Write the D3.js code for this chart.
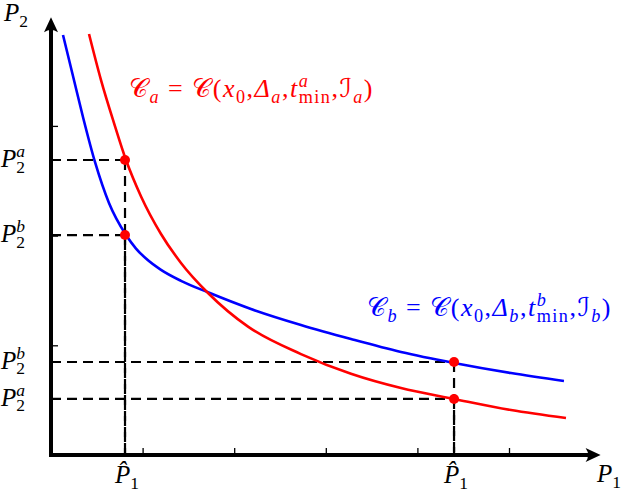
<!DOCTYPE html>
<html>
<head>
<meta charset="utf-8">
<title>Curves Ca and Cb</title>
<style>
  body { margin: 0; background: #fff; }
  svg { display: block; }
  .tick line { stroke: #000; stroke-width: 1.3; }
  .tick text { display: none; }
  .math { font-family: "Liberation Serif", "DejaVu Serif", serif; }
</style>
</head>
<body>
<svg width="629" height="491"></svg>
<script src="https://d3js.org/d3.v7.min.js"></script>
<script>
// curve C_a (red)
var redX = [0.415, 0.546, 0.688, 0.819, 0.983, 1.201, 1.419, 1.714, 2.151, 2.729, 3.275, 3.821, 4.400, 5.022, 5.622];
var redY = [3.838, 3.418, 3.026, 2.689, 2.357, 2.015, 1.751, 1.477, 1.170, 0.920, 0.740, 0.610, 0.511, 0.410, 0.337];

// curve C_b (blue)
var blueX = [0.131, 0.240, 0.349, 0.480, 0.633, 0.819, 0.928, 1.037, 1.201, 1.419, 1.714, 2.183, 2.729, 3.275, 3.821, 4.400, 5.022, 5.600];
var blueY = [3.829, 3.455, 3.081, 2.671, 2.297, 2.005, 1.882, 1.791, 1.688, 1.588, 1.483, 1.331, 1.185, 1.057, 0.939, 0.839, 0.747, 0.675];

// marked points (P1 hat, P2 level)
var markX = [0.808, 0.808, 4.400, 4.400];
var markY = [2.689, 2.005, 0.848, 0.511];
var markSup = ["a", "b", "b", "a"];

// minor ticks
var xTicks = [1, 2, 3, 4, 5];
var yTicks = [1, 2, 3];

var svg = d3.select("svg");
var x = d3.scaleLinear().domain([0, 6.0]).range([51, 600.6]);
var y = d3.scaleLinear().domain([0, 3.99]).range([455, 17.3]);

var scriptFont = "'DejaVu Sans', 'DejaVu Serif', serif";

// small helper for latex-ish text
function mathText(x0, y0, size, color, parts, anchor, spacing) {
  var t = svg.append("text")
    .attr("class", "math")
    .attr("x", x0).attr("y", y0)
    .attr("font-size", size)
    .attr("fill", color)
    .attr("letter-spacing", spacing || 0)
    .attr("text-anchor", anchor || "start");
  var cur = 0, lastW = 0;
  parts.forEach(function(p) {
    var shift = p.sub ? size * 0.22 : (p.sup ? -size * 0.4 : 0);
    var s = t.append("tspan").text(p.t)
      .attr("dy", shift - cur)
      .attr("font-style", p.it ? "italic" : "normal")
      .attr("font-size", (p.sub || p.sup) ? size * 0.7 : size);
    if (p.font) s.attr("font-family", p.font);
    if (p.stack) s.attr("dx", -lastW);
    cur = shift;
    lastW = s.node().getComputedTextLength();
  });
  return t;
}

// dashed guides
var guides = svg.append("g")
  .attr("stroke", "#000")
  .attr("stroke-width", 2.2)
  .attr("stroke-dasharray", "10,6")
  .attr("fill", "none");

markX.forEach(function(d, i) {
  guides.append("line")
    .attr("x1", x(0)).attr("x2", x(d))
    .attr("y1", y(markY[i])).attr("y2", y(markY[i]));
  guides.append("line")
    .attr("x1", x(d)).attr("x2", x(d))
    .attr("y1", y(markY[i])).attr("y2", y(0));
});

// curves
var line = d3.line()
  .x(function(d) { return x(d[0]); })
  .y(function(d) { return y(d[1]); })
  .curve(d3.curveMonotoneX);

svg.append("path")
  .datum(d3.zip(blueX, blueY))
  .attr("d", line)
  .attr("fill", "none")
  .attr("stroke", "#0000ff")
  .attr("stroke-width", 2.6);

svg.append("path")
  .datum(d3.zip(redX, redY))
  .attr("d", line)
  .attr("fill", "none")
  .attr("stroke", "#ff0000")
  .attr("stroke-width", 2.6);

svg.selectAll(".mark")
  .data(markX)
  .enter().append("circle")
  .attr("class", "mark")
  .attr("cx", function(d) { return x(d); })
  .attr("cy", function(d, i) { return y(markY[i]); })
  .attr("r", 5)
  .attr("fill", "#ff0000");

// axes with ticks
svg.append("g")
  .attr("transform", "translate(0," + (y(0) - 2) + ")")
  .call(d3.axisBottom(x).tickValues(xTicks).tickSize(-5).tickFormat(""))
  .select(".domain").remove();

svg.append("g")
  .attr("transform", "translate(" + (x(0) + 2) + ",0)")
  .call(d3.axisLeft(y).tickValues(yTicks).tickSize(-5).tickFormat(""))
  .select(".domain").remove();

var x0 = x(0), y0 = y(0), xe = x(6.0), ye = y(3.99);
svg.append("path")
  .attr("d", "M" + (x0 - 2) + "," + y0 + "H" + (xe - 8) + "M" + x0 + "," + (y0 + 2) + "V" + (ye + 8))
  .attr("stroke", "#000")
  .attr("stroke-width", 4)
  .attr("fill", "none");

svg.append("path")
  .attr("d", "M" + xe + "," + y0 + "L" + (xe - 15) + "," + (y0 - 7) + "Q" + (xe - 10) + "," + y0 + " " + (xe - 15) + "," + (y0 + 7) + "Z" +
             "M" + x0 + "," + ye + "L" + (x0 - 7) + "," + (ye + 15) + "Q" + x0 + "," + (ye + 10) + " " + (x0 + 7) + "," + (ye + 15) + "Z")
  .attr("fill", "#000");

// axis names
mathText(4, 21, 25, "#000", [{t: "P", it: 1}, {t: "2", sub: 1}]);
mathText(597, 482, 25, "#000", [{t: "P", it: 1}, {t: "1", sub: 1}]);

// level labels on the left
markY.forEach(function(d, i) {
  mathText(1, y(d) + 7, 25, "#000", [{t: "P", it: 1}, {t: markSup[i], it: 1, sup: 1}, {t: "2", sub: 1, stack: 1}]);
});

// P1 hat labels
[markX[0], markX[2]].forEach(function(d) {
  mathText(x(d) + 2, 483, 25, "#000", [{t: "P\u0302", it: 1}, {t: "1", sub: 1}], "middle");
});

// curve names
function curveLabel(px, py, color, k) {
  mathText(px, py, 26, color, [
    {t: "\ud835\udc9e", font: scriptFont}, {t: k, it: 1, sub: 1},
    {t: " = "},
    {t: "\ud835\udc9e", font: scriptFont}, {t: "("},
    {t: "x", it: 1}, {t: "0", sub: 1}, {t: ","},
    {t: "\u0394", it: 1}, {t: k, it: 1, sub: 1}, {t: ","},
    {t: "t", it: 1}, {t: k, it: 1, sup: 1}, {t: "min", sub: 1, stack: 1}, {t: ","},
    {t: "\u2110", font: scriptFont}, {t: k, it: 1, sub: 1},
    {t: ")"}
  ], "start", 1.5);
}
curveLabel(129, 97, "#ff0000", "a");
curveLabel(367, 316, "#0000ff", "b");
</script>
</body>
</html>
